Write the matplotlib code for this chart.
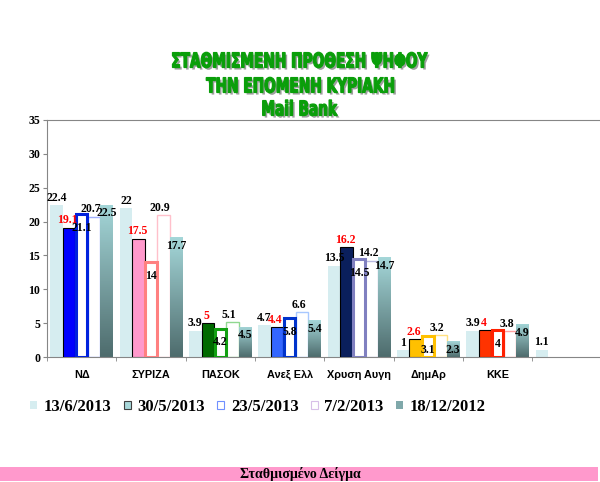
import numpy as np
import matplotlib.pyplot as plt
import matplotlib.patheffects as pe
from matplotlib.colors import LinearSegmentedColormap
from matplotlib.patches import Rectangle, PathPatch
from matplotlib.textpath import TextPath
from matplotlib.font_manager import FontProperties
from matplotlib.transforms import Affine2D, IdentityTransform

# data
parties = ['ΝΔ', 'ΣΥΡΙΖΑ', 'ΠΑΣΟΚ', 'Ανεξ Ελλ', 'Χρυση Αυγη', 'ΔημΑρ', 'ΚΚΕ', '']
dates = ['13/6/2013', '30/5/2013', '23/5/2013', '7/2/2013', '18/12/2012']
v_1306 = [22.4, 22, 3.9, 4.7, 13.5, 1, 3.9, 1.1]
v_3005 = [19.1, 17.5, 5, 4.4, 16.2, 2.6, 4]
v_2305 = [21.1, 14, 4.2, 5.8, 14.5, 3.1, 4]
v_0702 = [20.7, 20.9, 5.1, 6.6, 14.2, 3.2, 3.8]
v_1812 = [22.5, 17.7, 4.5, 5.4, 14.7, 2.3, 4.9]

# party colours
fill_3005 = ['#0000FF', '#FF99CC', '#006A00', '#3366FF', '#0A1F5C', '#FFC000', '#FF3300']
edge_2305 = ['#0022DD', '#FF8080', '#12A012', '#0033CC', '#8080C0', '#FFC000', '#FF2000']
edge_0702 = ['#A0B0FF', '#FFC0CB', '#90D890', '#A8C8FF', '#B8B8E0', '#FFE080', '#FFA0A0']

cyan = '#D6EDF0'
teal = LinearSegmentedColormap.from_list('teal', ['#4E6C6D', '#A4D6D8'])

plt.rcParams['font.family'] = ['Liberation Serif', 'DejaVu Serif']
plt.rcParams['font.weight'] = 'bold'

fig = plt.figure(figsize=(6, 4.82), dpi=100)
ax = fig.add_axes([47 / 600, 1 - 357 / 482, 553 / 600, 237 / 482])

n = len(parties)
x = np.arange(n) + 0.5
w = 0.18

b1 = ax.bar(x - 2 * w, v_1306, w, color=cyan, zorder=2)
b2 = ax.bar(x[:7] - w, v_3005, w, color=fill_3005, edgecolor='black', linewidth=0.8, zorder=3)
b3 = ax.bar(x[:7], v_2305, w * 0.92, color='white', edgecolor=edge_2305, linewidth=2.2, zorder=3)
b4 = ax.bar(x[:7] + w, v_0702, w, color='white', edgecolor=edge_0702, linewidth=1.0, zorder=2)
b5 = ax.bar(x[:7] + 2 * w, v_1812, w, color='#7FA8AA', zorder=2)

# gradient fill for 18/12 bars
grad = np.linspace(0, 1, 64).reshape(-1, 1)
for bar in b5:
    x0, h = bar.get_x(), bar.get_height()
    im = ax.imshow(grad, extent=[x0, x0 + bar.get_width(), 0, h], origin='lower',
                   cmap=teal, aspect='auto', zorder=2.5)
    im.set_clip_path(bar)

lab = dict(fontsize=8.5, fontweight='bold', textcoords='offset points', ha='center')
for xi, v in zip(x - 2 * w, v_1306):
    ax.annotate(f'{v:g}', (xi, v), xytext=(0, 1), va='bottom', **lab)
for xi, v in zip(x[:7] - w, v_3005):
    ax.annotate(f'{v:g}', (xi, v), xytext=(-1, 1), va='bottom', color='#FF0000', **lab)
for xi, v in zip(x[:7], v_2305):
    ax.annotate(f'{v:g}', (xi, v), xytext=(0, -10), va='center', zorder=5, **lab)
for xi, v in zip(x[:7] + w, v_0702):
    ax.annotate(f'{v:g}', (xi, v), xytext=(-2.5, 1), va='bottom', **lab)
for xi, v in zip(x[:7] + 2 * w, v_1812):
    ax.annotate(f'{v:g}', (xi, v), xytext=(0, -2), va='top', zorder=5, **lab)

ax.set_xlim(0, 553 / 69.3)
ax.set_ylim(0, 35)
ax.set_yticks(np.arange(0, 36, 5))
ax.set_xticks(x)
ax.set_xticklabels(parties, fontfamily='Liberation Sans', fontsize=7.8, fontweight='bold')
ax.set_xticks(np.arange(0, n), minor=True)
ax.tick_params(axis='x', which='major', length=0, pad=9)
ax.tick_params(axis='x', which='minor', length=3, color='#868686')
ax.tick_params(axis='y', length=3, color='#868686', labelsize=8.5, pad=2)
for s in ['left', 'top', 'bottom']:
    ax.spines[s].set_color('#868686')
ax.spines['right'].set_visible(False)

# legend
handles = [
    Rectangle((0, 0), 1, 1, facecolor=cyan, edgecolor='none'),
    Rectangle((0, 0), 1, 1, facecolor='#A8D8DA', edgecolor='#404040', linewidth=0.8),
    Rectangle((0, 0), 1, 1, facecolor='white', edgecolor='#7090FF', linewidth=0.8),
    Rectangle((0, 0), 1, 1, facecolor='white', edgecolor='#D8C0E8', linewidth=0.8),
    Rectangle((0, 0), 1, 1, facecolor='#7FA8AA', edgecolor='none'),
]
fig.legend(handles, dates, loc='center', bbox_to_anchor=(258 / 600, 1 - 407 / 482), ncol=5,
           frameon=False, prop={'size': 12, 'weight': 'bold'}, handlelength=0.4,
           handleheight=0.4, handletextpad=0.4, columnspacing=0.75)

# title: condensed heavy lettering, drawn as squeezed text paths (pixel coords)
shadow = [pe.SimplePatchShadow(offset=(1.5, -1.5), shadow_rgbFace='#606060', alpha=0.6), pe.Normal()]
titles = ['ΣΤΑΘΜΙΣΜΕΝΗ ΠΡΟΘΕΣΗ ΨΗΦΟΥ', 'ΤΗΝ ΕΠΟΜΕΝΗ ΚΥΡΙΑΚΗ', 'Mail Bank']
tprop = FontProperties(family='DejaVu Sans', weight='bold')
sx = 255 / TextPath((0, 0), titles[0], size=20.5, prop=tprop).get_extents().width
for t, yy in zip(titles, [60, 85, 108]):
    tp = TextPath((0, 0), t, size=20.5, prop=tprop)
    e = tp.get_extents()
    tr = Affine2D().translate(-(e.x0 + e.width / 2), -7.5).scale(sx, 1).translate(300, 482 - yy)
    patch = PathPatch(tr.transform_path(tp), facecolor='#0A9E0A', edgecolor='#0A9E0A',
                      linewidth=0.9, path_effects=shadow)
    patch.set_transform(IdentityTransform())
    fig.patches.append(patch)

# bottom band
fig.patches.append(Rectangle((0, 1 / 482), 598 / 600, 14 / 482, transform=fig.transFigure,
                             facecolor='#FF99CC', edgecolor='none'))
fig.text(0.5, 1 - 474 / 482, 'Σταθμισμένο Δείγμα', ha='center', va='center',
         fontsize=10, fontweight='bold')

fig.savefig('out.png', dpi=100)
